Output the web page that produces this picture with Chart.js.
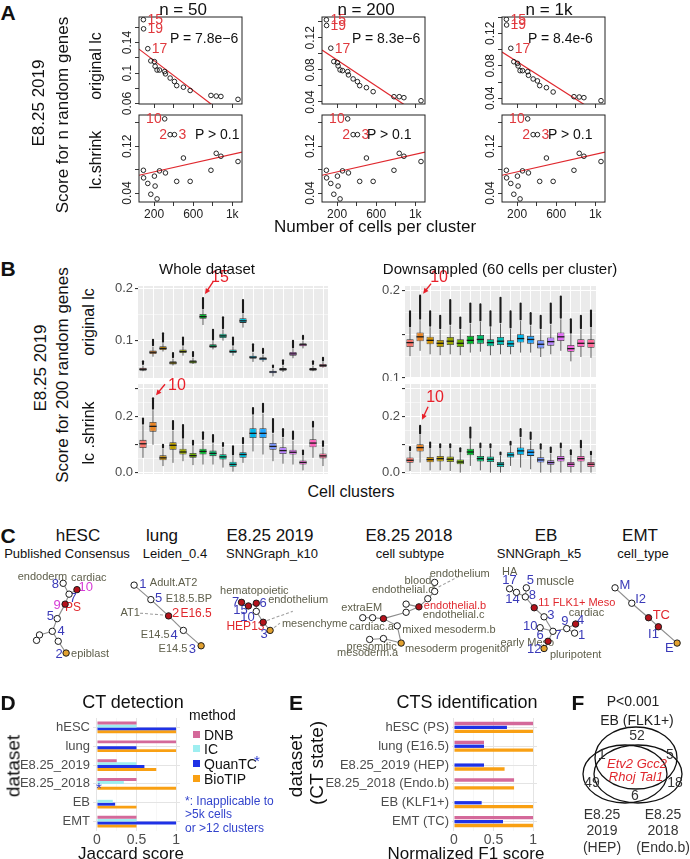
<!DOCTYPE html>
<html>
<head>
<meta charset="utf-8">
<title>Figure</title>
<script src="https://cdn.jsdelivr.net/npm/chart.js@4.4.1/dist/chart.umd.min.js"></script>
<style>
  body { margin: 0; background: #fff; }
  #fig { position: relative; width: 690px; height: 859px; overflow: hidden; font-family: "Liberation Sans", Arial, sans-serif; }
  #fig canvas { position: absolute; }
  .t { position: absolute; white-space: nowrap; line-height: 1; color: #111; }
</style>
</head>
<body>
<div id="fig"></div>
<script>
// ---------- Panel A: score vs number of cells per cluster ----------
const cellsPerCluster = [90, 92, 135, 166, 203, 210, 230, 255, 308, 316, 364, 408, 431, 500, 569, 782, 836, 884, 1059];
const origN50 = [0.170, 0.158, 0.132, 0.116, 0.115, 0.109, 0.104, 0.104, 0.102, 0.099, 0.0935, 0.089, 0.0836, 0.0815, 0.0772, 0.0707, 0.0699, 0.0694, 0.0656];
const origN200 = [0.1425, 0.1354, 0.1071, 0.0904, 0.0891, 0.085, 0.080, 0.0791, 0.0779, 0.0738, 0.0688, 0.0654, 0.0604, 0.0579, 0.0529, 0.0466, 0.0466, 0.0454, 0.0416];
const origN1k = [0.1372, 0.1302, 0.1015, 0.085, 0.083, 0.0798, 0.074, 0.074, 0.0728, 0.0683, 0.0638, 0.0614, 0.0556, 0.0531, 0.0478, 0.042, 0.0416, 0.0408, 0.0371];
const shrinkScore = [0.079, 0.066, 0.0565, 0.038, 0.069, 0.052, 0.030, 0.078, 0.167, 0.0745, 0.140, 0.140, 0.060, 0.100, 0.060, 0.079, 0.108, 0.103, 0.094];
const fitIntercept = [0.1358, 0.1086, 0.1005];
const fitSlope = [-9.75e-5, -8.1e-5, -7.68e-5];
const shrinkFit = [0.0688, 3.74e-5];
const sampleSizes = ['n = 50', 'n = 200', 'n = 1k'];
const pOrig = ['P = 7.8e\u22126', 'P = 8.3e\u22126', 'P = 8.4e-6'];
const pShrink = 'P > 0.1';
const aXTicks = [200, 400, 600, 800, 1000];
const aXTickLabels = {200: '200', 600: '600', 1000: '1k'};
const origYTicks = [[0.06, 0.08, 0.1, 0.12, 0.14, 0.16], [0.04, 0.06, 0.08, 0.1, 0.12, 0.14], [0.04, 0.06, 0.08, 0.1, 0.12, 0.14]];
const origYLabeled = [[0.06, 0.1, 0.14], [0.04, 0.08, 0.12], [0.04, 0.08, 0.12]];
const shrinkYTicks = [0.04, 0.08, 0.12, 0.16];
const shrinkYLabeled = [0.04, 0.12];
const origMarks = [{i: 0, t: '15'}, {i: 1, t: '19'}, {i: 2, t: '17'}];
const shrinkMarks = [{i: 8, t: '10', left: true}, {i: 10, t: '2', left: true}, {i: 11, t: '3'}];

// ---------- Panel B: boxplots, each box = [lo, q1, median, q3, hi, max outlier] ----------
const clusterIds = ['1','2','3','4','5','6','7','8','9','10','11','12','13','14','15','16','17','18','19'];
const wholeOrig = [
  [0.040, 0.041, 0.0437, 0.0465, 0.051, 0.059], [0.068, 0.073, 0.0766, 0.080, 0.087, 0.1006],
  [0.078, 0.081, 0.084, 0.088, 0.094, 0.113], [0.051, 0.053, 0.056, 0.059, 0.064, 0.075],
  [0.070, 0.075, 0.078, 0.082, 0.088, 0.105], [0.054, 0.055, 0.058, 0.061, 0.066, 0.077],
  [0.129, 0.141, 0.145, 0.150, 0.158, 0.181], [0.082, 0.085, 0.088, 0.092, 0.098, 0.1196],
  [0.099, 0.104, 0.108, 0.112, 0.120, 0.144], [0.070, 0.075, 0.078, 0.082, 0.088, 0.105],
  [0.124, 0.133, 0.137, 0.142, 0.150, 0.177], [0.058, 0.064, 0.067, 0.070, 0.076, 0.092],
  [0.058, 0.061, 0.064, 0.067, 0.072, 0.083], [0.030, 0.036, 0.0386, 0.041, 0.045, 0.051],
  [0.0386, 0.041, 0.0437, 0.046, 0.051, 0.061], [0.065, 0.070, 0.0734, 0.077, 0.083, 0.0987],
  [0.084, 0.088, 0.091, 0.094, 0.099, 0.108], [0.040, 0.041, 0.0437, 0.046, 0.051, 0.059],
  [0.047, 0.048, 0.051, 0.054, 0.058, 0.066]
];
const wholeShrink = [
  [0.053, 0.088, 0.1035, 0.1176, 0.170, 0.194], [0.100, 0.147, 0.166, 0.182, 0.224, 0.267],
  [0.0235, 0.044, 0.053, 0.062, 0.085, 0.100], [0.035, 0.082, 0.098, 0.109, 0.150, 0.185],
  [0.041, 0.065, 0.074, 0.086, 0.120, 0.171], [0.027, 0.053, 0.061, 0.0706, 0.095, 0.114],
  [0.029, 0.065, 0.076, 0.086, 0.115, 0.145], [0.029, 0.059, 0.069, 0.079, 0.105, 0.135],
  [0.018, 0.047, 0.0565, 0.066, 0.090, 0.106], [0.0035, 0.021, 0.0294, 0.039, 0.060, 0.094],
  [0.035, 0.053, 0.065, 0.073, 0.100, 0.124], [0.076, 0.124, 0.141, 0.159, 0.206, 0.232],
  [0.065, 0.124, 0.141, 0.159, 0.212, 0.247], [0.041, 0.082, 0.094, 0.106, 0.140, 0.192],
  [0.032, 0.067, 0.079, 0.091, 0.125, 0.156], [0.029, 0.065, 0.073, 0.082, 0.115, 0.147],
  [0.008, 0.029, 0.0365, 0.0435, 0.060, 0.079], [0.053, 0.091, 0.106, 0.120, 0.159, 0.182],
  [0.0235, 0.051, 0.060, 0.069, 0.090, 0.112]
];
const downOrig = [
  [0.125, 0.1354, 0.1404, 0.1442, 0.157, 0.176], [0.131, 0.142, 0.147, 0.152, 0.166, 0.194],
  [0.127, 0.1385, 0.143, 0.147, 0.158, 0.176], [0.126, 0.1354, 0.1396, 0.1435, 0.155, 0.171],
  [0.127, 0.1377, 0.142, 0.1469, 0.160, 0.189], [0.126, 0.1354, 0.1396, 0.1442, 0.155, 0.169],
  [0.129, 0.1385, 0.143, 0.1481, 0.162, 0.185], [0.130, 0.1392, 0.144, 0.1492, 0.164, 0.184],
  [0.126, 0.1362, 0.1404, 0.1442, 0.158, 0.176], [0.127, 0.1377, 0.142, 0.1469, 0.162, 0.1915],
  [0.127, 0.1354, 0.139, 0.1431, 0.156, 0.176], [0.129, 0.1404, 0.145, 0.150, 0.165, 0.185],
  [0.129, 0.1392, 0.144, 0.1481, 0.160, 0.174], [0.124, 0.1338, 0.1385, 0.1431, 0.155, 0.171],
  [0.127, 0.1369, 0.1415, 0.1462, 0.161, 0.185], [0.131, 0.1423, 0.147, 0.152, 0.167, 0.193],
  [0.119, 0.130, 0.1335, 0.1377, 0.150, 0.167], [0.124, 0.1354, 0.1396, 0.1442, 0.155, 0.171],
  [0.123, 0.1346, 0.1396, 0.1442, 0.157, 0.177]
];
const downShrink = [
  [0.006, 0.035, 0.0443, 0.054, 0.075, 0.092], [0.036, 0.076, 0.0898, 0.102, 0.135, 0.168],
  [0.008, 0.037, 0.0467, 0.0563, 0.085, 0.108], [0.008, 0.040, 0.050, 0.060, 0.085, 0.102],
  [0.006, 0.038, 0.048, 0.058, 0.085, 0.102], [0.000, 0.030, 0.038, 0.047, 0.070, 0.087],
  [0.024, 0.062, 0.074, 0.086, 0.120, 0.162], [0.008, 0.040, 0.050, 0.060, 0.085, 0.104],
  [0.000, 0.038, 0.048, 0.058, 0.085, 0.102], [0.000, 0.020, 0.030, 0.038, 0.060, 0.072],
  [0.024, 0.054, 0.0635, 0.073, 0.095, 0.111], [0.018, 0.064, 0.078, 0.090, 0.125, 0.156],
  [0.012, 0.060, 0.073, 0.084, 0.115, 0.144], [0.000, 0.036, 0.0455, 0.055, 0.080, 0.102],
  [0.000, 0.028, 0.036, 0.044, 0.068, 0.090], [0.000, 0.040, 0.050, 0.060, 0.085, 0.104],
  [0.000, 0.020, 0.030, 0.038, 0.060, 0.080], [0.000, 0.040, 0.050, 0.060, 0.085, 0.114],
  [0.000, 0.020, 0.030, 0.038, 0.060, 0.075]
];
// ggplot hue palette, 19 clusters
const clusterColors = ['#F8766D','#E88526','#D39200','#BA9E00','#9AA800','#6FB000','#00B92A','#00BE6C','#00C094','#00C0B8',
  '#00BCD8','#00B6EB','#21A6FF','#7A97FF','#B983FF','#E36EF6','#F763E0','#FF62BC','#FF6A98'];

// ---------- Panel C: cluster trees (x, y, state: 0 none, 1 CT, 2 reference) ----------
const hescNodes = [[59,580,0],[73,587,1],[65,592,0],[61,603,1],[53,619,0],[48,633,0],[35,637,0],[32,643,0],[54,644,0],[62,657,2]];
const hescEdges = [[0,2],[1,2],[2,3],[3,4],[4,5],[5,6],[6,7],[5,8],[8,9]];
const lungNodes = [[131,582,0],[148,598,0],[166,616,1],[181,632,0],[199,649,2]];
const lungEdges = [[0,1],[1,2],[2,3],[3,4]];
const e2019Nodes = [[240,601,1],[247,605,1],[255,602,1],[255,611,0],[262,623,1],[269,632,2]];
const e2019Edges = [[0,1],[1,2],[2,3],[3,4],[4,5]];
const e2018Nodes = [[436,579,0],[436,589,0],[429,597,0],[420,606,1],[407,603,0],[407,612,0],[384,619,1],[373,618,0],[363,618,0],[398,627,0],[384,641,0],[370,642,0],[402,646,2]];
const e2018Edges = [[0,1],[1,2],[2,3],[4,3],[3,5],[5,6],[6,7],[7,8],[6,9],[9,12],[12,10],[10,11]];
const ebNodes = [[512,586,0],[519,590,0],[528,595,0],[529,585,0],[537,607,1],[547,617,0],[543,629,0],[556,633,0],[551,644,1],[547,652,2],[570,630,0],[579,625,1],[578,635,0]];
const ebEdges = [[0,1],[1,2],[3,2],[2,4],[4,5],[5,7],[6,7],[7,8],[8,9],[7,10],[10,11],[10,12]];
const emtNodes = [[619,585,0],[636,602,0],[653,618,1],[663,628,1],[682,646,2]];
const emtEdges = [[0,1],[1,2],[2,3],[3,4]];
const netLabels = [
  ['endoderm',38,573,'g',11,'c'], ['cardiac',85,574,'g',11,'c'], ['8',51,581,'b',13,'c'], ['10',82,584,'m',13,'c'],
  ['7',69,597,'b',13,'c'], ['9',53,604,'m',13,'c'], ['PS',69,607,'r',12,'c'], ['5',46,617,'b',13,'c'],
  ['4',57,633,'b',13,'c'], ['2',55,658,'b',13,'c'], ['epiblast',67,658,'g',11,'l'],
  ['1',140,581,'b',13,'c'], ['Adult.AT2',147,580,'g',11,'l'], ['5',156,597,'b',13,'c'], ['E18.5.BP',163,597,'g',11,'l'],
  ['2',173,613,'r',13,'c'], ['E16.5',178,613,'r',12,'l'], ['AT1',127,613,'g',11,'c'],
  ['E14.5',167,637,'g',11,'r'], ['4',171.5,637,'b',13,'c'], ['E14.5',185,653,'g',11,'r'], ['3',190,653,'b',13,'c'],
  ['hematopoietic',253,588,'g',11,'c'], ['7',234,601,'b',13,'c'], ['15',239,610,'b',13,'c'], ['6',262,602,'b',13,'c'],
  ['endothelium',267,598,'g',11,'l'], ['10',246,618,'b',13,'c'], ['HEP13',244,628,'r',12,'c'], ['3',263,636,'b',13,'c'],
  ['mesenchyme',281,625,'g',11,'l'],
  ['endothelium',431,570,'g',11,'l'], ['blood',419,577,'g',11,'c'], ['endothelial.d',404,587,'g',11,'c'],
  ['extraEM',362,607,'g',11,'c'], ['endothelial.b',425,605,'r',11,'l'], ['endothelial.c',424,615,'g',11,'l'],
  ['cardiac.a',372,628,'g',11,'c'], ['mixed mesoderm.b',403,631,'g',11,'l'], ['presomitic',372,650,'g',11,'c'],
  ['mesoderm.a',368,657,'g',11,'c'], ['mesoderm progenitor',406,653,'g',11,'l'],
  ['HA',512,568,'g',11,'c'], ['17',512,577,'b',13,'c'], ['5',533,577,'b',13,'c'], ['muscle',539,578,'g',12,'l'],
  ['14',515,598,'b',13,'c'], ['8',535,593,'b',13,'c'], ['11 FLK1+ Meso',541,602,'r',11,'l'], ['cardiac',590,613,'g',11,'c'],
  ['3',554,615,'b',13,'c'], ['9',568,622,'b',13,'c'], ['4',584,621,'b',13,'c'], ['1',585,637,'b',13,'c'],
  ['10',533,628,'b',13,'c'], ['6',543,638,'b',13,'c'], ['7',561,637,'b',13,'c'], ['early Meso',530,646,'g',11,'c'],
  ['12',537,653,'b',13,'c'], ['pluripotent',553,659,'g',11,'l'],
  ['M',629,582,'b',13,'c'], ['I2',645,598,'b',13,'c'], ['TC',666,615,'r',13,'c'], ['I1',658,636,'b',13,'c'], ['E',674,652,'b',13,'c']
];
const netDashed = [[137,613,161,615],[266,621,292,611],[273,629,279,624],[440,584,463,571]];

// ---------- Panel D / E ----------
const datasetsD = ['hESC', 'lung', 'E8.25_2019', 'E8.25_2018', 'EB', 'EMT'];
const dnbD = [0.5, 1, 0.25, 0.5, 0, 0.5];
const icD = [0.5, 0, 0.5, 0.34, 0.2, 0.5];
const quantcD = [1, 0.5, 0.6, null, 0.23, 1];
const biotipD = [1, 1, 0.75, 1, 0.5, 0.5];
const datasetsE = ['hESC (PS)', 'lung (E16.5)', 'E8.25_2019 (HEP)', 'E8.25_2018 (Endo.b)', 'EB (KLF1+)', 'EMT (TC)'];
const dnbE = [1, 0.38, 0, 0.76, 0, 1];
const quantcE = [0.67, 0.38, 0.38, 0, 0.35, 0.62];
const biotipE = [1, 1, 0.64, 0.76, 1, 1];
const methodColors = {DNB: '#D4699A', IC: '#9EEEF0', QuanTC: '#1F32E6', BioTIP: '#F9A013'};

// ---------- Panel F: Venn ----------
const vennCounts = ['52', '1', '5', '49', '18', '6'];
const sharedGenes = ['Etv2 Gcc2', 'Rhoj Tal1'];

// ================= helpers =================
const fig = document.getElementById('fig');
Chart.defaults.font.family = '"Liberation Sans", Arial, sans-serif';

function txt(s, x, y, o = {}) {
  const d = document.createElement('div');
  d.className = 't';
  d.textContent = s;
  d.style.left = x + 'px';
  d.style.top = y + 'px';
  d.style.fontSize = (o.size || 14) + 'px';
  if (o.color) d.style.color = o.color;
  if (o.bold) d.style.fontWeight = 'bold';
  if (o.italic) d.style.fontStyle = 'italic';
  const ax = o.align === 'l' ? '0' : o.align === 'r' ? '-100%' : '-50%';
  d.style.transform = `translate(${ax},-50%)` + (o.rot ? ' rotate(-90deg)' : '');
  fig.appendChild(d);
}

function addCanvas(left, top, w, h) {
  const c = document.createElement('canvas');
  c.width = w; c.height = h;
  c.style.left = left + 'px'; c.style.top = top + 'px';
  c.style.width = w + 'px'; c.style.height = h + 'px';
  fig.appendChild(c);
  return c;
}

function mk(canvas, cfg) {
  cfg.options = Object.assign({responsive: false, animation: false, devicePixelRatio: 1}, cfg.options);
  cfg.options.plugins = Object.assign({legend: {display: false}, tooltip: {enabled: false}}, cfg.options.plugins || {});
  return new Chart(canvas.getContext('2d'), cfg);
}

const fitW = w => s => { s.width = w; s.paddingTop = 0; s.paddingBottom = 0; };
const fitH = h => s => { s.height = h; s.paddingLeft = 0; s.paddingRight = 0; };
const near = (list, v) => list.some(l => Math.abs(l - v) < 1e-9);

// ================= Panel A =================
const aCols = [139, 322, 502], aRows = [17, 115], aW = 103, aH = 87;
const aXMin = 45, aXMax = 1100;
const origYRange = [[0.0595, 0.1735], [0.0375, 0.146], [0.033, 0.140]];
const shrinkYRange = [0.0247, 0.1736];

function aPanel(c, r) {
  const x0 = aCols[c], y0 = aRows[r], padT = 9;
  const cv = addCanvas(x0 - 30, y0 - padT, aW + 36, aH + padT + 20);
  const ys = r === 0 ? [origN50, origN200, origN1k][c] : shrinkScore;
  const [ymin, ymax] = r === 0 ? origYRange[c] : shrinkYRange;
  const yt = (r === 0 ? origYTicks[c] : shrinkYTicks).filter(v => v >= ymin && v <= ymax);
  const yl = r === 0 ? origYLabeled[c] : shrinkYLabeled;
  const a = r === 0 ? fitIntercept[c] : shrinkFit[0];
  const b = r === 0 ? fitSlope[c] : shrinkFit[1];
  const marks = r === 0 ? origMarks : shrinkMarks;
  mk(cv, {
    type: 'scatter',
    data: {datasets: [
      {data: cellsPerCluster.map((x, i) => ({x, y: ys[i]})), pointRadius: 2.3, pointBorderWidth: 0.9,
       pointBorderColor: '#111', pointBackgroundColor: 'rgba(0,0,0,0)'},
      {type: 'line', data: [{x: aXMin, y: a + b * aXMin}, {x: aXMax, y: a + b * aXMax}],
       borderColor: '#E0282E', borderWidth: 1.2, pointRadius: 0}
    ]},
    options: {
      layout: {padding: {top: padT, right: 6, left: 0, bottom: 0}},
      scales: {
        x: {type: 'linear', min: aXMin, max: aXMax, afterFit: fitH(20),
            afterBuildTicks: s => { s.ticks = aXTicks.map(v => ({value: v})); },
            ticks: {display: r === 1, autoSkip: false, maxRotation: 0, padding: 1, color: '#222', font: {size: 12},
                    callback: v => aXTickLabels[v] || ''},
            grid: {drawOnChartArea: false, drawTicks: true, tickLength: 4, color: '#222', lineWidth: 0.9},
            border: {display: false}},
        y: {min: ymin, max: ymax, afterFit: fitW(30),
            afterBuildTicks: s => { s.ticks = yt.map(v => ({value: v})); },
            ticks: {display: false},
            grid: {drawOnChartArea: false, drawTicks: true, tickLength: 4, color: '#222', lineWidth: 0.9},
            border: {display: false}}
      }
    },
    plugins: [{
      id: 'aExtra',
      afterDraw(ch) {
        const ctx = ch.ctx, ca = ch.chartArea, xs = ch.scales.x, ysc = ch.scales.y;
        ctx.save();
        ctx.strokeStyle = '#222'; ctx.lineWidth = 1;
        ctx.strokeRect(ca.left, ca.top, ca.right - ca.left, ca.bottom - ca.top);
        ctx.fillStyle = '#222'; ctx.font = '12px "Liberation Sans"';
        ctx.textAlign = 'center'; ctx.textBaseline = 'middle';
        yl.forEach(v => {
          ctx.save();
          ctx.translate(ca.left - 11, ysc.getPixelForValue(v));
          ctx.rotate(-Math.PI / 2);
          ctx.fillText(String(+v.toFixed(2)), 0, 0);
          ctx.restore();
        });
        ctx.fillStyle = '#E0393E'; ctx.font = '14px "Liberation Sans"';
        marks.forEach(m => {
          const px = xs.getPixelForValue(cellsPerCluster[m.i]), py = ysc.getPixelForValue(ys[m.i]);
          ctx.textAlign = m.left ? 'right' : 'left';
          ctx.fillText(m.t, px + (m.left ? -3 : 4), py + 0.5);
        });
        ctx.restore();
      }
    }]
  });
}
for (let c = 0; c < 3; c++) for (let r = 0; r < 2; r++) aPanel(c, r);

txt('A', 8, 12, {size: 21, bold: true});
[183, 366, 549].forEach((x, i) => txt(sampleSizes[i], x, 9, {size: 17}));
[170, 352, 528].forEach((x, i) => txt(pOrig[i], x, 38, {size: 14, align: 'l'}));
[195, 367, 548].forEach(x => txt(pShrink, x, 134, {size: 14, align: 'l'}));
txt('original lc', 96, 66, {size: 16, rot: true});
txt('lc.shrink', 96, 160, {size: 16, rot: true});
txt('E8.25 2019', 38, 103, {size: 17, rot: true});
txt('Score for n random genes', 62, 115, {size: 17, rot: true});
txt('Number of cells per cluster', 375, 226, {size: 17});

// ================= Panel B =================
function arrowTo(ctx, tx, ty, hx, hy) {
  const ang = Math.atan2(hy - ty, hx - tx);
  ctx.beginPath(); ctx.moveTo(tx, ty); ctx.lineTo(hx - 3 * Math.cos(ang), hy - 3 * Math.sin(ang)); ctx.stroke();
  ctx.beginPath();
  ctx.moveTo(hx, hy);
  ctx.lineTo(hx - 6 * Math.cos(ang - 0.45), hy - 6 * Math.sin(ang - 0.45));
  ctx.lineTo(hx - 6 * Math.cos(ang + 0.45), hy - 6 * Math.sin(ang + 0.45));
  ctx.closePath(); ctx.fill();
}

function bPanel(x0, y0, x1, y1, boxes, yr, majors, minors, labeled, arrow) {
  const padT = 26, axW = 36;
  const cv = addCanvas(x0 - axW, y0 - padT, x1 - x0 + axW + 4, y1 - y0 + padT + 3);
  const allTicks = majors.concat(minors).sort((p, q) => p - q);
  mk(cv, {
    type: 'bar',
    data: {labels: clusterIds, datasets: [{
      data: boxes.map(b => [b[1], b[3]]), backgroundColor: clusterColors, borderColor: '#333',
      borderWidth: 0.8, borderSkipped: false, barPercentage: 0.72, categoryPercentage: 1
    }]},
    options: {
      layout: {padding: {top: padT, right: 4, left: 0, bottom: 3}},
      scales: {
        x: {grid: {color: '#fff', lineWidth: 1, offset: false, drawTicks: false}, ticks: {display: false},
            border: {display: false}, afterFit: fitH(0)},
        y: {min: yr[0], max: yr[1], afterFit: fitW(axW),
            afterBuildTicks: s => { s.ticks = allTicks.map(v => ({value: v})); },
            grid: {color: '#fff', drawTicks: true, tickLength: 3,
                   lineWidth: c => near(majors, c.tick.value) ? 1.1 : 0.5,
                   tickColor: c => near(majors, c.tick.value) ? '#333' : 'rgba(0,0,0,0)'},
            border: {display: false},
            ticks: {padding: 2, color: '#4D4D4D', font: {size: 13}, autoSkip: false,
                    callback: v => near(labeled, v) ? v.toFixed(1) : ''}}
      }
    },
    plugins: [{
      id: 'boxParts',
      beforeDraw(ch) {
        const ca = ch.chartArea, ctx = ch.ctx;
        ctx.save(); ctx.fillStyle = '#EBEBEB';
        ctx.fillRect(ca.left, ca.top, ca.right - ca.left, ca.bottom - ca.top); ctx.restore();
      },
      beforeDatasetsDraw(ch) {
        const ctx = ch.ctx, xs = ch.scales.x, ys = ch.scales.y;
        ctx.save();
        ctx.strokeStyle = '#333'; ctx.lineWidth = 0.8;
        boxes.forEach((b, i) => {
          const px = xs.getPixelForValue(i);
          ctx.beginPath(); ctx.moveTo(px, ys.getPixelForValue(b[0])); ctx.lineTo(px, ys.getPixelForValue(b[4])); ctx.stroke();
        });
        ctx.strokeStyle = '#1A1A1A'; ctx.lineWidth = 2.1; ctx.lineCap = 'round';
        boxes.forEach((b, i) => {
          if (b[5] <= b[4]) return;
          const px = xs.getPixelForValue(i);
          ctx.beginPath(); ctx.moveTo(px, ys.getPixelForValue(b[4]) - 1.5); ctx.lineTo(px, ys.getPixelForValue(b[5])); ctx.stroke();
        });
        ctx.restore();
      },
      afterDatasetsDraw(ch) {
        const ctx = ch.ctx, xs = ch.scales.x, ys = ch.scales.y, bars = ch.getDatasetMeta(0).data;
        ctx.save();
        ctx.strokeStyle = '#1A1A1A'; ctx.lineWidth = 1.3;
        boxes.forEach((b, i) => {
          const px = xs.getPixelForValue(i), hw = bars[i].width / 2, py = ys.getPixelForValue(b[2]);
          ctx.beginPath(); ctx.moveTo(px - hw, py); ctx.lineTo(px + hw, py); ctx.stroke();
        });
        if (arrow) {
          const px = xs.getPixelForValue(arrow.i), py = ys.getPixelForValue(boxes[arrow.i][5]);
          ctx.strokeStyle = ctx.fillStyle = '#E8202A'; ctx.lineWidth = 1.4;
          arrowTo(ctx, px + arrow.tail[0], py + arrow.tail[1], px + arrow.head[0], py + arrow.head[1]);
          ctx.font = '16px "Liberation Sans"'; ctx.textAlign = 'center'; ctx.textBaseline = 'middle';
          ctx.fillText(arrow.label, px + arrow.text[0], py + arrow.text[1]);
        }
        ctx.restore();
      }
    }]
  });
}

bPanel(138, 286, 328, 378, wholeOrig, [0.027, 0.204], [0.1, 0.2], [0.05, 0.15], [0.1, 0.2],
  {i: 6, label: '15', tail: [10, -16], head: [2, -4], text: [17, -20]});
bPanel(138, 384, 328, 474, wholeShrink, [-0.005, 0.318], [0, 0.1, 0.2, 0.3], [0.05, 0.15, 0.25], [0, 0.2],
  {i: 1, label: '10', tail: [12, -14], head: [3, -3], text: [24, -13]});
bPanel(405, 286, 596, 378, downOrig, [0.1, 0.205], [0.1, 0.15, 0.2], [0.125, 0.175], [0.1, 0.2],
  {i: 1, label: '10', tail: [11, -12], head: [3, -2], text: [19, -18]});
bPanel(405, 384, 596, 474, downShrink, [-0.005, 0.318], [0, 0.1, 0.2, 0.3], [0.05, 0.15, 0.25], [0, 0.2],
  {i: 1, label: '10', tail: [8, -19], head: [2, -6], text: [15, -28]});

txt('B', 8, 268, {size: 21, bold: true});
txt('Whole dataset', 207, 268, {size: 15});
txt('Downsampled (60 cells per cluster)', 500, 268, {size: 15});
txt('E8.25 2019', 40, 368, {size: 17, rot: true});
txt('Score for 200 random genes', 62, 375, {size: 17, rot: true});
txt('original lc', 89, 322, {size: 16, rot: true});
txt('lc .shrink', 89, 433, {size: 16, rot: true});
txt('Cell clusters', 351, 492, {size: 16});

// ================= Panel C =================
const nets = [
  [hescNodes, hescEdges], [lungNodes, lungEdges], [e2019Nodes, e2019Edges],
  [e2018Nodes, e2018Edges], [ebNodes, ebEdges], [emtNodes, emtEdges]
];
const stateFill = ['#FFFFFF', '#B5121B', '#E2A12F'];
const labelColor = {g: '#5E5E4A', b: '#3A3AB8', m: '#D63CD6', r: '#E0282E'};
const netTop = 562, netH = 106;
const netCanvas = addCanvas(0, netTop, 690, netH);
mk(netCanvas, {
  type: 'scatter',
  data: {datasets: nets.map(([nodes]) => ({
    data: nodes.map(n => ({x: n[0], y: n[1]})),
    pointRadius: 3.2, pointBorderWidth: 1, pointBorderColor: '#1A1A1A',
    pointBackgroundColor: nodes.map(n => stateFill[n[2]])
  }))},
  options: {
    layout: {padding: 0},
    scales: {
      x: {display: false, min: 0, max: 690},
      y: {display: false, min: netTop, max: netTop + netH, reverse: true}
    }
  },
  plugins: [{
    id: 'netParts',
    beforeDatasetsDraw(ch) {
      const ctx = ch.ctx, xs = ch.scales.x, ys = ch.scales.y;
      const P = (x, y) => [xs.getPixelForValue(x), ys.getPixelForValue(y)];
      ctx.save();
      ctx.strokeStyle = '#8C8C8C'; ctx.lineWidth = 1.1;
      nets.forEach(([nodes, edges]) => edges.forEach(([s, t]) => {
        const a = P(nodes[s][0], nodes[s][1]), b = P(nodes[t][0], nodes[t][1]);
        ctx.beginPath(); ctx.moveTo(a[0], a[1]); ctx.lineTo(b[0], b[1]); ctx.stroke();
      }));
      ctx.setLineDash([3, 2]); ctx.strokeStyle = '#A0A0A0';
      netDashed.forEach(d => {
        const a = P(d[0], d[1]), b = P(d[2], d[3]);
        ctx.beginPath(); ctx.moveTo(a[0], a[1]); ctx.lineTo(b[0], b[1]); ctx.stroke();
      });
      ctx.setLineDash([]);
      ctx.textBaseline = 'middle';
      netLabels.forEach(([s, x, y, col, size, al]) => {
        const p = P(x, y);
        ctx.font = size + 'px "Liberation Sans Narrow", "Liberation Sans", sans-serif';
        ctx.fillStyle = labelColor[col];
        ctx.textAlign = al === 'l' ? 'left' : al === 'r' ? 'right' : 'center';
        ctx.fillText(s, p[0], p[1]);
      });
      ctx.restore();
    }
  }]
});

txt('C', 8, 535, {size: 21, bold: true});
[['hESC', 'Published Consensus', 78, 67], ['lung', 'Leiden_0.4', 162, 175], ['E8.25 2019', 'SNNGraph_k10', 270, 272],
 ['E8.25 2018', 'cell subtype', 409, 410], ['EB', 'SNNGraph_k5', 546, 539], ['EMT', 'cell_type', 640, 643]]
  .forEach(([t, s, x1, x2]) => { txt(t, x1, 535, {size: 17}); txt(s, x2, 553, {size: 13}); });

// ================= Panels D and E =================
function hbar(left, axW, w, labels, sets, xMin, catPct, barPct, extra) {
  const cv = addCanvas(left, 711, w, 134);
  mk(cv, {
    type: 'bar',
    data: {labels, datasets: sets.map(([name, vals]) => ({
      label: name, data: vals, backgroundColor: methodColors[name], borderWidth: 0,
      categoryPercentage: catPct, barPercentage: barPct
    }))},
    options: {
      indexAxis: 'y',
      layout: {padding: {top: 7, right: 4, left: 0, bottom: 0}},
      scales: {
        x: {min: xMin, max: 1.05, afterFit: fitH(14),
            afterBuildTicks: s => { s.ticks = [0, 0.25, 0.5, 0.75, 1].map(v => ({value: v})); },
            grid: {color: c => near([0, 0.5, 1], c.tick.value) ? '#E4E4E4' : '#F1F1F1',
                   lineWidth: c => near([0, 0.5, 1], c.tick.value) ? 1 : 0.6, drawTicks: false},
            border: {display: false},
            ticks: {padding: 1, color: '#4D4D4D', font: {size: 14}, autoSkip: false, maxRotation: 0,
                    callback: v => near([0, 0.5, 1], v) ? String(v) : ''}},
        y: {afterFit: fitW(axW), grid: {color: '#E4E4E4', offset: false, drawTicks: false},
            border: {display: false},
            ticks: {padding: 3, color: '#4D4D4D', font: {size: 13}}}
      }
    },
    plugins: extra ? [extra] : []
  });
}

hbar(0, 93, 184, datasetsD, [['DNB', dnbD], ['IC', icD], ['QuanTC', quantcD], ['BioTIP', biotipD]], -0.05, 0.62, 1, {
  id: 'inapplicable',
  afterDatasetsDraw(ch) {
    const ctx = ch.ctx, xs = ch.scales.x;
    quantcD.forEach((v, i) => {
      if (v !== null) return;
      const y = (ch.getDatasetMeta(1).data[i].y + ch.getDatasetMeta(3).data[i].y) / 2;
      ctx.save(); ctx.fillStyle = '#2A3AD0'; ctx.font = '15px "Liberation Sans"';
      ctx.textAlign = 'center'; ctx.textBaseline = 'middle';
      ctx.fillText('*', xs.getPixelForValue(0) + 2, y + 3); ctx.restore();
    });
  }
});
hbar(298, 154, 243, datasetsE, [['DNB', dnbE], ['QuanTC', quantcE], ['BioTIP', biotipE]], -0.025, 0.62, 0.85);

txt('D', 8, 702, {size: 21, bold: true});
txt('CT detection', 133, 702, {size: 18});
txt('dataset', 13, 766, {size: 19, rot: true});
txt('Jaccard score', 131, 853, {size: 17});
txt('method', 189, 715, {size: 14, align: 'l'});
[['DNB', 735], ['IC', 749], ['QuanTC', 764], ['BioTIP', 779]].forEach(([m, y]) => {
  const sq = document.createElement('div');
  sq.style.cssText = `position:absolute;left:193px;top:${y - 4}px;width:7px;height:7px;background:${methodColors[m]}`;
  fig.appendChild(sq);
  txt(m, 204, y, {size: 14, align: 'l'});
});
txt('*', 254, 760, {size: 15, color: '#2A3AD0', align: 'l'});
[['*: Inapplicable to', 801], ['>5k cells', 814], ['or >12 clusters', 828]]
  .forEach(([s, y]) => txt(s, 185, y, {size: 12, color: '#3344CC', align: 'l'}));

txt('E', 296, 702, {size: 21, bold: true});
txt('CTS identification', 467, 702, {size: 18});
txt('dataset', 295, 766, {size: 19, rot: true});
txt('(CT state)', 316, 763, {size: 19, rot: true});
txt('Normalized F1 score', 466, 853, {size: 17});

// ================= Panel F =================
const vennCx = [636, 625, 638], vennCy = [758, 774, 774], vennRx = [41, 42, 44], vennRy = [31, 29, 29];
const vennCountX = [637, 602, 670, 592, 675, 635], vennCountY = [736, 755, 755, 783, 783, 796];
const fCanvas = addCanvas(575, 712, 115, 100);
mk(fCanvas, {
  type: 'scatter',
  data: {datasets: [{data: vennCounts.map((c, i) => ({x: vennCountX[i], y: vennCountY[i]})), pointRadius: 0}]},
  options: {
    layout: {padding: 0},
    scales: {x: {display: false, min: 575, max: 690}, y: {display: false, min: 712, max: 812, reverse: true}}
  },
  plugins: [{
    id: 'venn',
    afterDatasetsDraw(ch) {
      const ctx = ch.ctx, xs = ch.scales.x, ys = ch.scales.y;
      ctx.save();
      ctx.strokeStyle = '#111'; ctx.lineWidth = 1.3;
      vennCx.forEach((cx, i) => {
        const px = xs.getPixelForValue(cx), py = ys.getPixelForValue(vennCy[i]);
        const rx = xs.getPixelForValue(cx + vennRx[i]) - px, ry = Math.abs(ys.getPixelForValue(vennCy[i] + vennRy[i]) - py);
        ctx.beginPath(); ctx.ellipse(px, py, rx, ry, 0, 0, 2 * Math.PI); ctx.stroke();
      });
      ctx.fillStyle = '#333'; ctx.font = '14px "Liberation Sans"'; ctx.textAlign = 'center'; ctx.textBaseline = 'middle';
      ch.getDatasetMeta(0).data.forEach((pt, i) => ctx.fillText(vennCounts[i], pt.x, pt.y));
      ctx.fillStyle = '#E0282E'; ctx.font = 'italic 13px "Liberation Sans"';
      ctx.fillText(sharedGenes[0], xs.getPixelForValue(637), ys.getPixelForValue(764));
      ctx.fillText(sharedGenes[1], xs.getPixelForValue(636), ys.getPixelForValue(777));
      ctx.restore();
    }
  }]
});
txt('F', 578, 702, {size: 21, bold: true});
txt('P<0.001', 633, 701, {size: 14, color: '#222'});
txt('EB (FLK1+)', 637, 720, {size: 14, color: '#222'});
[['E8.25', 814], ['2019', 830], ['(HEP)', 847]].forEach(([s, y]) => txt(s, 602, y, {size: 14, color: '#333'}));
[['E8.25', 814], ['2018', 830], ['(Endo.b)', 847]].forEach(([s, y]) => txt(s, 663, y, {size: 14, color: '#333'}));
</script>
</body>
</html>
